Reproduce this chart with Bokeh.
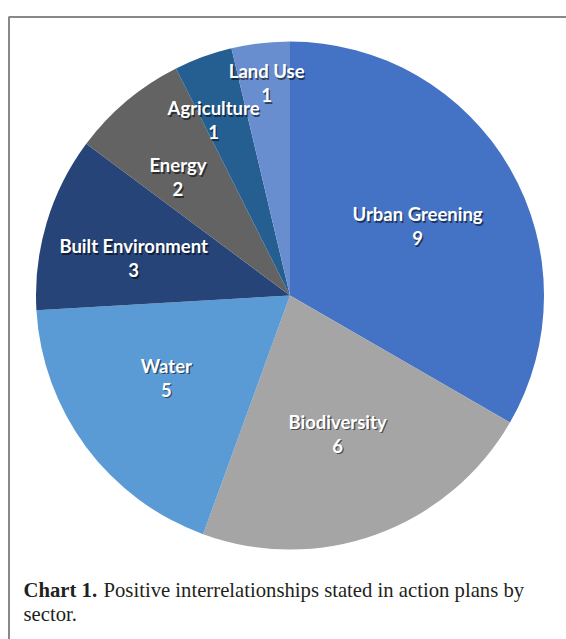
import math
from bokeh.plotting import figure
from bokeh.models import Range1d, ColumnDataSource
from bokeh.core.properties import value
from bokeh.embed import file_html
from bokeh.resources import INLINE

# ---- data ----
sectors = ["Urban Greening", "Biodiversity", "Water", "Built Environment", "Energy", "Agriculture", "Land Use"]
counts = [9, 6, 5, 3, 2, 1, 1]
colors = ["#4472C4", "#A5A5A5", "#5B9BD5", "#264478", "#636363", "#255E91", "#698ED0"]
caption_bold = "Chart 1."
caption_line1 = "Positive interrelationships stated in action plans by"
caption_line2 = "sector."

# ---- layout (pixels, canvas coordinates with y up) ----
W, H = 566, 639
cx, cy, R = 289.5, H - 295.0, 254.0
label_frac = [0.572, 0.575, 0.585, 0.633, 0.642, 0.752, 0.842]
label_dang = [-1.4, -1.0, -3.0, 3.2, 3.4, 3.6, -0.4]  # degrees, best-fit nudges

total = sum(counts)
starts, ends, lx, ly = [], [], [], []
cum = 0
for c, f, da in zip(counts, label_frac, label_dang):
    a0 = math.pi / 2 - 2 * math.pi * cum / total
    a1 = math.pi / 2 - 2 * math.pi * (cum + c) / total
    starts.append(a0)
    ends.append(a1)
    mid = (a0 + a1) / 2 + math.radians(da)
    lx.append(cx + f * R * math.cos(mid))
    ly.append(cy + f * R * math.sin(mid))
    cum += c

src = ColumnDataSource(dict(start=starts, end=ends, color=colors, name=sectors,
                            cnt=[str(c) for c in counts], lx=lx, ly=ly,
                            sx=[x + 1.4 for x in lx], sy=[y - 1.6 for y in ly]))

p = figure(width=W, height=H, x_range=Range1d(0, W), y_range=Range1d(0, H),
           output_backend="svg", toolbar_location=None, min_border=0)
p.axis.visible = False
p.grid.visible = False
p.outline_line_color = None
p.background_fill_color = "white"

# frame border (top and left only visible)
p.line(x=[8.5, 8.5, W + 5], y=[-5, H - 16.5, H - 16.5], line_color="#888888", line_width=2)

p.wedge(x=cx, y=cy, radius=R, start_angle="start", end_angle="end", direction="clock",
        fill_color="color", line_color=None, source=src)

font = value("Lato")
fs = "18.5px"
for xc, yc, col, alpha in (("sx", "sy", "#000000", 0.55), ("lx", "ly", "white", 1.0)):
    p.text(x=xc, y=yc, text="name", source=src, text_font=font, text_font_style="bold",
           text_font_size=fs, text_color=col, text_alpha=alpha, text_align="center",
           text_baseline="middle", y_offset=-12)
    p.text(x=xc, y=yc, text="cnt", source=src, text_font=font, text_font_style="bold",
           text_font_size=fs, text_color=col, text_alpha=alpha, text_align="center",
           text_baseline="middle", y_offset=12)

# caption
cap_font = value("Liberation Serif")
cfs = "20.7px"
p.text(x=[23], y=[H - 589], text=[caption_bold], text_font=cap_font, text_font_style="bold",
       text_font_size=cfs, text_color="#231f20", text_baseline="alphabetic")
p.text(x=[23], y=[H - 589], text=[caption_line1], text_font=cap_font,
       text_font_size=cfs, text_color="#231f20", text_baseline="alphabetic", x_offset=80)
p.text(x=[23], y=[H - 613], text=[caption_line2], text_font=cap_font,
       text_font_size=cfs, text_color="#231f20", text_baseline="alphabetic")

open("out.html", "w").write(file_html(p, INLINE))
